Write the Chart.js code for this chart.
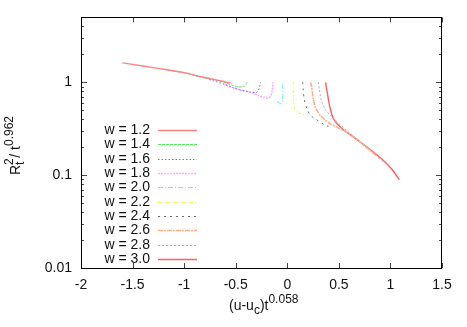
<!DOCTYPE html>
<html><head><meta charset="utf-8">
<script src="https://cdn.jsdelivr.net/npm/chart.js@4/dist/chart.umd.min.js"></script>
<style>html,body{margin:0;padding:0;background:#fff}</style>
</head><body>
<canvas id="c" width="467" height="327"></canvas>
<script>
const xTicks = [-2, -1.5, -1, -0.5, 0, 0.5, 1, 1.5];
const yTicks = [0.01, 0.1, 1];
const seriesLabels = ['w = 1.2','w = 1.4','w = 1.6','w = 1.8','w = 2.0','w = 2.2','w = 2.4','w = 2.6','w = 2.8','w = 3.0'];

const w12 = [[-1.6,1.62],[-1.4,1.5],[-1.2,1.38],[-1.0,1.27],[-0.85,1.16],[-0.7,1.07],[-0.62,1.02],[-0.57,0.99],[-0.56,0.985],[-0.55,0.99]];
const w14 = [[-1.15,1.35],[-1.0,1.26],[-0.85,1.15],[-0.7,1.06],[-0.6,0.99],[-0.52,0.92],[-0.48,0.895],[-0.44,0.89],[-0.415,0.91],[-0.40,0.95],[-0.39,1.0]];
const w16 = [[-0.92,1.2],[-0.8,1.11],[-0.72,1.04],[-0.62,0.96],[-0.52,0.87],[-0.44,0.82],[-0.36,0.785],[-0.31,0.772],[-0.285,0.80],[-0.27,0.88],[-0.26,1.0]];
const w18 = [[-0.62,0.96],[-0.52,0.87],[-0.44,0.82],[-0.36,0.78],[-0.28,0.72],[-0.22,0.685],[-0.19,0.675],[-0.165,0.70],[-0.15,0.78],[-0.142,0.88],[-0.138,1.0]];
const w20 = [[-0.10,0.62],[-0.08,0.6],[-0.06,0.585],[-0.05,0.6],[-0.046,0.7],[-0.044,0.85],[-0.043,1.0]];
const w22 = [[0.057,1.0],[0.058,0.8],[0.062,0.62],[0.07,0.53],[0.085,0.49],[0.107,0.47],[0.14,0.455],[0.17,0.445]];
const w24 = [[0.15,1.0],[0.155,0.82],[0.165,0.65],[0.19,0.52],[0.22,0.45],[0.26,0.41],[0.317,0.375],[0.36,0.35],[0.40,0.333]];
const w26 = [[0.227,1.0],[0.236,0.9],[0.25,0.68],[0.275,0.53],[0.317,0.445],[0.37,0.39],[0.414,0.36],[0.5,0.32],[0.576,0.29],[0.65,0.255],[0.72,0.22],[0.8,0.185],[0.87,0.16]];
const w28 = [[0.30,1.0],[0.31,0.85],[0.333,0.62],[0.37,0.51],[0.414,0.445],[0.46,0.39],[0.51,0.35],[0.58,0.3],[0.65,0.26],[0.72,0.225],[0.8,0.19],[0.87,0.158],[0.93,0.14]];
const w30 = [[0.372,1.0],[0.378,0.88],[0.39,0.75],[0.40,0.64],[0.42,0.5],[0.446,0.41],[0.48,0.36],[0.55,0.305],[0.64,0.258],[0.705,0.228],[0.8,0.19],[0.9,0.155],[0.96,0.134],[1.03,0.11],[1.086,0.089]];

const seriesData = [w12,w14,w16,w18,w20,w22,w24,w26,w28,w30];
const colors = ['rgb(255,130,130)','rgb(90,230,90)','rgb(110,110,255)','rgb(255,170,255)','rgb(100,235,235)','rgb(240,240,60)','rgb(110,110,110)','rgb(255,175,140)','rgb(175,175,175)','rgb(255,95,95)'];
const dashes = [[],[3,1],[1.5,2],[2,1],[5,2,1,2],[3,2,1,2],[2,4],[5,1,2,1],[2,2],[]];
const widths = [1.4,1,1,1.6,1,1,1,1.6,1,1.4];

const FONT = '"Liberation Sans", Arial, Helvetica, sans-serif';

const datasets = seriesData.map((d,i)=>({
  label: seriesLabels[i],
  data: d.map(p=>({x:p[0], y:p[1]})),
  showLine: true,
  pointRadius: 0,
  borderColor: colors[i],
  backgroundColor: colors[i],
  borderWidth: widths[i],
  borderDash: dashes[i],
  tension: 0.25,
  fill: false
}));

function drawRich(ctx, parts, x, y){
  let cx = x;
  parts.forEach(p=>{
    ctx.font = p.size + 'px ' + FONT;
    ctx.fillText(p.t, cx, y + (p.dy||0));
    const w = ctx.measureText(p.t).width;
    if(!p.noAdvance) cx += w;
  });
}

const frame = {
  id: 'frame',
  afterDraw(chart){
    const {ctx, chartArea:a, scales:{x, y}} = chart;
    ctx.save();
    ctx.strokeStyle = '#444';
    ctx.lineWidth = 1;
    ctx.setLineDash([]);
    ctx.beginPath();
    xTicks.forEach(v=>{
      const px = Math.round(x.getPixelForValue(v)) + 0.5;
      ctx.moveTo(px, a.bottom); ctx.lineTo(px, a.bottom - 5);
      ctx.moveTo(px, a.top); ctx.lineTo(px, a.top + 5);
    });
    for(let k=-2;k<=0;k++){
      for(let m=1;m<=9;m++){
        const v = m*Math.pow(10,k);
        if(v > y.max + 1e-9 || v < y.min - 1e-9) continue;
        const py = Math.round(y.getPixelForValue(v)) + 0.5;
        const L = m===1 ? 6 : 3;
        ctx.moveTo(a.left, py); ctx.lineTo(a.left + L, py);
        ctx.moveTo(a.right, py); ctx.lineTo(a.right - L, py);
      }
    }
    ctx.stroke();
    ctx.strokeStyle = '#000';
    ctx.strokeRect(Math.round(a.left)+0.5, Math.round(a.top)+0.5, Math.round(a.right)-Math.round(a.left)-1, Math.round(a.bottom)-Math.round(a.top));

    // legend
    ctx.fillStyle = '#111';
    ctx.textBaseline = 'middle';
    ctx.textAlign = 'right';
    ctx.font = '14px ' + FONT;
    seriesLabels.forEach((lab,i)=>{
      const yy = 130 + i*14.35;
      ctx.fillText(lab, 150, yy);
      ctx.beginPath();
      ctx.strokeStyle = colors[i];
      ctx.lineWidth = widths[i];
      ctx.setLineDash(dashes[i]);
      ctx.moveTo(158, Math.round(yy)+0.5);
      ctx.lineTo(197, Math.round(yy)+0.5);
      ctx.stroke();
    });
    ctx.setLineDash([]);

    // x title
    ctx.textAlign = 'left';
    ctx.textBaseline = 'alphabetic';
    ctx.fillStyle = '#111';
    drawRich(ctx, [
      {t:'(u-u', size:14},
      {t:'c', size:12, dy:4},
      {t:')t', size:14},
      {t:'0.058', size:12, dy:-7}
    ], 229, 310);

    // y title
    ctx.save();
    ctx.translate(20, 175);
    ctx.rotate(-Math.PI/2);
    drawRich(ctx, [
      {t:'R', size:14},
      {t:'2', size:12, dy:-7, noAdvance:true},
      {t:'t', size:12, dy:4},
      {t:' / t', size:14},
      {t:'0.962', size:12, dy:-7}
    ], 0, 0);
    ctx.restore();
    ctx.restore();
  }
};

new Chart(document.getElementById('c'), {
  type: 'scatter',
  data: { datasets },
  options: {
    responsive: false,
    animation: false,
    layout: { padding: { top: 16, right: 25, left: 0, bottom: 0 } },
    plugins: { legend: { display: false }, tooltip: { enabled: false } },
    scales: {
      x: {
        type: 'linear', min: -2, max: 1.5,
        afterBuildTicks: s => { s.ticks = xTicks.map(v=>({value:v})); },
        afterFit: s => { s.height = 59; },
        grid: { display: false, drawTicks: false },
        border: { display: false },
        ticks: { color: '#111', font: { size: 14, family: FONT }, padding: 9, maxRotation: 0, autoSkip: false,
          callback: v => String(v) }
      },
      y: {
        type: 'logarithmic', min: 0.01, max: 5,
        afterBuildTicks: s => { s.ticks = yTicks.map(v=>({value:v})); },
        afterFit: s => { s.width = 81; },
        grid: { display: false, drawTicks: false },
        border: { display: false },
        ticks: { color: '#111', font: { size: 14, family: FONT }, padding: 9, autoSkip: false,
          callback: v => String(v) }
      }
    }
  },
  plugins: [frame]
});
</script>
</body></html>
